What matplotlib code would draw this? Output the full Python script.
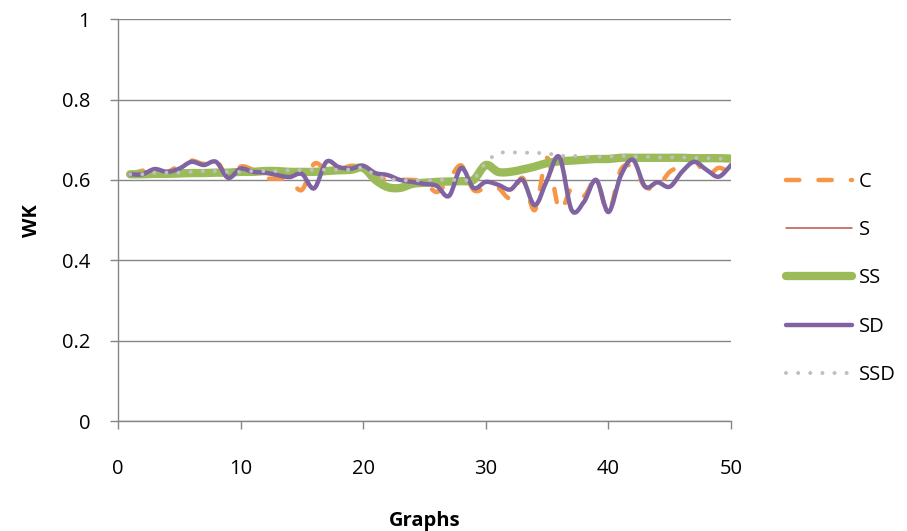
import numpy as np
import matplotlib
matplotlib.use("Agg")
import matplotlib.pyplot as plt
from matplotlib.path import Path
from matplotlib.patches import PathPatch
from matplotlib.lines import Line2D

graphs = list(range(1, 51))

c_vals = [0.614, 0.623, 0.625, 0.620, 0.636, 0.648, 0.640, 0.650, 0.605, 0.633,
          0.625, 0.605, 0.603, 0.600, 0.575, 0.640, 0.625, 0.625, 0.635, 0.630,
          0.610, 0.600, 0.600, 0.600, 0.595, 0.570, 0.600, 0.636, 0.575, 0.580,
          0.580, 0.555, 0.605, 0.525, 0.655, 0.525, 0.580, 0.560, 0.600, 0.520,
          0.625, 0.630, 0.583, 0.583, 0.620, 0.635, 0.650, 0.610, 0.630, 0.615]

ss_vals = [0.614, 0.614, 0.615, 0.615, 0.616, 0.617, 0.617, 0.618, 0.618, 0.620,
           0.620, 0.622, 0.622, 0.620, 0.620, 0.620, 0.622, 0.624, 0.625, 0.630,
           0.600, 0.582, 0.580, 0.590, 0.593, 0.595, 0.596, 0.597, 0.600, 0.637,
           0.620, 0.620, 0.626, 0.633, 0.642, 0.646, 0.648, 0.650, 0.652, 0.652,
           0.655, 0.655, 0.655, 0.655, 0.655, 0.655, 0.654, 0.654, 0.654, 0.653]

# S is hidden under SS in the original
s_vals = list(ss_vals)

sd_vals = [0.614, 0.614, 0.627, 0.620, 0.628, 0.645, 0.637, 0.645, 0.605, 0.628,
           0.620, 0.618, 0.612, 0.607, 0.615, 0.579, 0.645, 0.632, 0.628, 0.635,
           0.617, 0.612, 0.600, 0.595, 0.590, 0.585, 0.560, 0.630, 0.580, 0.595,
           0.588, 0.576, 0.600, 0.537, 0.600, 0.657, 0.525, 0.545, 0.600, 0.520,
           0.610, 0.650, 0.583, 0.594, 0.583, 0.620, 0.645, 0.625, 0.608, 0.637]

ssd_vals = [0.614, 0.614, 0.618, 0.618, 0.618, 0.620, 0.622, 0.622, 0.620, 0.620,
            0.622, 0.622, 0.622, 0.624, 0.624, 0.625, 0.625, 0.625, 0.626, 0.630,
            0.612, 0.602, 0.600, 0.598, 0.600, 0.600, 0.600, 0.600, 0.602, 0.643,
            0.666, 0.668, 0.668, 0.667, 0.666, 0.660, 0.660, 0.658, 0.658, 0.658,
            0.660, 0.658, 0.658, 0.656, 0.656, 0.656, 0.655, 0.654, 0.653, 0.652]


def smooth_path(xs, ys):
    # Excel-style smoothed line: bezier segments through the data points
    p = np.column_stack([xs, ys]).astype(float)
    n = len(p)
    verts = [p[0]]
    codes = [Path.MOVETO]
    for i in range(n - 1):
        p0 = p[i - 1] if i > 0 else p[i]
        p3 = p[i + 2] if i + 2 < n else p[i + 1]
        c1 = p[i] + (p[i + 1] - p0) / 6.0
        c2 = p[i + 1] - (p3 - p[i]) / 6.0
        verts += [c1, c2, p[i + 1]]
        codes += [Path.CURVE4] * 3
    return Path(verts, codes)


series = [
    ("C", c_vals, dict(color="#F79646", lw=3.2, ls=(0, (3.0, 4.3)))),
    ("S", s_vals, dict(color="#C0504D", lw=1.1, ls="-")),
    ("SS", ss_vals, dict(color="#9BBB59", lw=6.0, ls="-")),
    ("SD", sd_vals, dict(color="#8064A2", lw=3.2, ls="-")),
    ("SSD", ssd_vals, dict(color="#BFBFBF", lw=2.9, ls=(0, (0.01, 3.0)))),
]

plt.rcParams["font.family"] = ["Open Sans", "DejaVu Sans"]
fs = 14.5

fig = plt.figure(figsize=(9.07, 5.31), dpi=100)
ax = fig.add_axes([0.130, 0.207, 0.676, 0.757])

handles = []
for name, vals, st in series:
    patch = PathPatch(smooth_path(graphs, vals), fill=False, edgecolor=st["color"],
                      linewidth=st["lw"], linestyle=st["ls"], capstyle="round",
                      joinstyle="round", transform=ax.transData, zorder=3)
    ax.add_patch(patch)
    h = Line2D([], [], color=st["color"], lw=st["lw"], ls=st["ls"],
               solid_capstyle="round", dash_capstyle="round")
    handles.append(h)

ax.set_xlim(0, 50)
ax.set_ylim(0, 1)
ax.set_xticks([0, 10, 20, 30, 40, 50])
ax.set_yticks([0, 0.2, 0.4, 0.6, 0.8, 1])
ax.set_yticklabels(["0", "0.2", "0.4", "0.6", "0.8", "1"])

ax.grid(axis="y", color="#868686", lw=1.0)
ax.set_axisbelow(True)
for side in ["top", "right"]:
    ax.spines[side].set_visible(False)
for side in ["left", "bottom"]:
    ax.spines[side].set_color("#868686")
    ax.spines[side].set_linewidth(1.0)
ax.tick_params(axis="both", colors="#868686", length=6, width=1.0,
               labelcolor="black", labelsize=fs)
ax.tick_params(axis="x", pad=21)
ax.tick_params(axis="y", pad=14)

ax.set_xlabel("Graphs", fontsize=fs, fontweight="bold", labelpad=23)
ax.set_ylabel("WK", fontsize=fs, fontweight="bold", labelpad=14)

ax.legend(handles, [s[0] for s in series], loc="center left",
          bbox_to_anchor=(1.06, 0.355), frameon=False, fontsize=fs,
          handlelength=3.3, handletextpad=0.3, labelspacing=1.4)

fig.savefig("out.png", dpi=100)
